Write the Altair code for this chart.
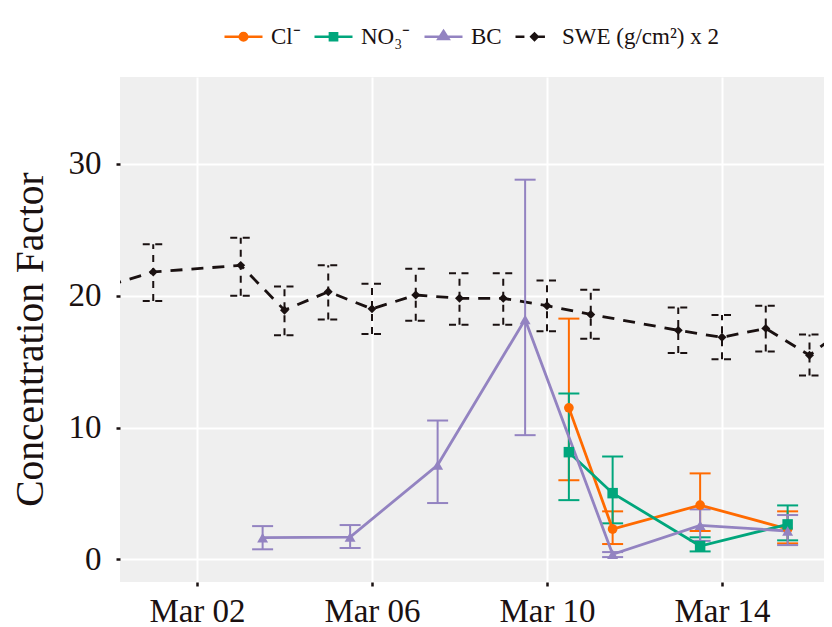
import altair as alt
import pandas as pd

# ---- data ----
series_names = ["Cl⁻", "NO₃⁻", "BC", "SWE (g/cm²) x 2"]
series_colors = ["#ff6a00", "#00a67c", "#9383c1", "#1a1111"]
point_shapes = ["circle", "square", "triangle-up", "diamond"]
point_sizes = [95, 110, 120, 80]


def ring(r):
    return f"M{r},0A{r},{r} 0 1,1 -{r},0A{r},{r} 0 1,1 {r},0Z"


def sq(h):
    return f"M-{h},-{h}H{h}V{h}H-{h}Z"


def tri(k):
    return f"M0,{-0.02 - 0.28 * k:.3f}L{0.27 * k:.3f},{-0.02 + 0.14 * k:.3f}H{-0.27 * k:.3f}Z"


def dia(h):
    return f"M-{h},0L0,-{h}L{h},0L0,{h}Z"


# legend keys: line plus marker (marker filled by nested strokes)
legend_paths = [
    "M-1,0H1" + ring(0.2) + ring(0.12) + ring(0.05),
    "M-1,0H1" + sq(0.19) + sq(0.12) + sq(0.05),
    "M-1,0H1" + tri(1.0) + tri(0.6) + tri(0.25),
    "M-1,0H-0.53M0.15,0H0.55" + dia(0.17) + dia(0.1) + dia(0.04),
]

swe_dates = ["2019-02-28T00:00:00Z", "2019-03-01T00:00:00Z", "2019-03-03T00:00:00Z",
             "2019-03-04T00:00:00Z", "2019-03-05T00:00:00Z", "2019-03-06T00:00:00Z",
             "2019-03-07T00:00:00Z", "2019-03-08T00:00:00Z", "2019-03-09T00:00:00Z",
             "2019-03-10T00:00:00Z", "2019-03-11T00:00:00Z", "2019-03-13T00:00:00Z",
             "2019-03-14T00:00:00Z", "2019-03-15T00:00:00Z", "2019-03-16T00:00:00Z",
             "2019-03-17T00:00:00Z"]
swe_value = [20.8, 21.8, 22.3, 18.9, 20.3, 19.0, 20.05, 19.8, 19.8, 19.24, 18.58, 17.37, 16.84, 17.52, 15.48, 18.0]
swe_low = [18.9, 19.6, 20.0, 17.0, 18.2, 17.1, 18.1, 17.8, 17.8, 17.3, 16.74, 15.66, 15.17, 15.76, 13.94, 16.2]
swe_high = [22.7, 23.9, 24.4, 20.7, 22.3, 20.9, 22.05, 21.7, 21.7, 21.16, 20.45, 19.11, 18.54, 19.24, 17.05, 19.8]

bc_dates = ["2019-03-03T12:00:00Z", "2019-03-05T12:00:00Z", "2019-03-07T12:00:00Z",
            "2019-03-09T12:00:00Z", "2019-03-11T12:00:00Z", "2019-03-13T12:00:00Z",
            "2019-03-15T12:00:00Z"]
bc_value = [1.64, 1.69, 7.15, 18.2, 0.38, 2.58, 2.15]
bc_low = [0.76, 0.86, 4.27, 9.42, 0.17, 1.4, 1.08]
bc_high = [2.52, 2.6, 10.53, 28.8, 0.55, 3.79, 3.36]

ion_dates = ["2019-03-10T12:00:00Z", "2019-03-11T12:00:00Z", "2019-03-13T12:00:00Z",
             "2019-03-15T12:00:00Z"]
cl_value = [11.49, 2.3, 4.11, 2.3]
cl_low = [6.0, 1.16, 2.15, 1.21]
cl_high = [18.26, 3.64, 6.52, 3.64]

no3_value = [8.13, 5.02, 1.01, 2.65]
no3_low = [4.49, 2.73, 0.6, 1.44]
no3_high = [12.58, 7.8, 1.67, 4.09]

x_ticks = [2, 6, 10, 14]
y_ticks = [0, 10, 20, 30]


def frame(name, dates, val, lo, hi):
    return pd.DataFrame({"series": name, "date": dates, "value": val, "lo": lo, "hi": hi})


df = pd.concat([
    frame(series_names[0], ion_dates, cl_value, cl_low, cl_high),
    frame(series_names[1], ion_dates, no3_value, no3_low, no3_high),
    frame(series_names[2], bc_dates, bc_value, bc_low, bc_high),
    frame(series_names[3], swe_dates, swe_value, swe_low, swe_high),
], ignore_index=True)

FONT = "Liberation Serif"
TXT = "#1a1111"

x_scale = alt.Scale(type="utc",
                    domain=[alt.DateTime(year=2019, month=2, date=28, hours=5, minutes=46, utc=True),
                            alt.DateTime(year=2019, month=3, date=16, hours=7, minutes=57, utc=True)])
y_scale = alt.Scale(domain=[-1.72, 36.59], nice=False, zero=False)

x_enc = alt.X("date:T", scale=x_scale, title=None,
              axis=alt.Axis(values=[alt.DateTime(year=2019, month=3, date=d, utc=True) for d in x_ticks],
                            labelExpr="utcFormat(datum.value, '%b %d')", labelPadding=9))
color_scale = alt.Scale(domain=series_names, range=series_colors)
color_enc = alt.Color("series:N", scale=color_scale)

base = alt.Chart(df)

y_main = alt.Y("value:Q", scale=y_scale, title="Concentration Factor",
               axis=alt.Axis(values=y_ticks, labelPadding=15, titleX=-78, titleY=262,
                             titleBaseline="alphabetic"))


def series_layers(idx, dash_bar=None, dash_cap=None, dash_line=None):
    kw_bar = {"strokeDash": dash_bar} if dash_bar else {}
    kw_cap = {"strokeDash": dash_cap} if dash_cap else {}
    kw_line = {"strokeDash": dash_line} if dash_line else {}
    b = base.transform_filter(alt.datum.series == series_names[idx])
    bar = b.mark_rule(strokeWidth=2, clip=True, **kw_bar).encode(
        x=x_enc, y=alt.Y("lo:Q", scale=y_scale), y2="hi:Q", color=color_enc)
    cap_hi = b.mark_rule(strokeWidth=2, clip=True, xOffset=-10.5, x2Offset=10.5, **kw_cap).encode(
        x=x_enc, x2="date:T", y=alt.Y("hi:Q", scale=y_scale), color=color_enc)
    cap_lo = b.mark_rule(strokeWidth=2, clip=True, xOffset=-10.5, x2Offset=10.5, **kw_cap).encode(
        x=x_enc, x2="date:T", y=alt.Y("lo:Q", scale=y_scale), color=color_enc)
    line = b.mark_line(strokeWidth=2.8, clip=True, **kw_line).encode(
        x=x_enc, y=y_main, color=color_enc)
    pts = b.mark_point(filled=True, opacity=1, clip=True, shape=point_shapes[idx],
                       size=point_sizes[idx]).encode(x=x_enc, y=y_main, color=color_enc)
    return [bar, cap_hi, cap_lo], [line], [pts]


swe = series_layers(3, [7, 6], [7, 5.5], [12, 9])
ions = [series_layers(i) for i in range(3)]

data_layers = swe[0] + swe[1] + swe[2]
for part in range(3):
    for s in ions:
        data_layers += s[part]

leg = dict(title=None, orient="none", legendX=103, legendY=-61, direction="horizontal",
           labelFont=FONT, labelFontSize=23, labelColor=TXT, labelOffset=7,
           symbolSize=1444, symbolStrokeWidth=2.5, columnPadding=8, padding=0,
           symbolOpacity=1)

# legend-carrying layer (first, so its legend settings win); its marks sit outside the clipped area
legend_layer = base.mark_point(filled=False, opacity=1, strokeWidth=2.5, clip=True, xOffset=3000).encode(
    x=x_enc, y=y_main,
    color=alt.Color("series:N", scale=color_scale, legend=alt.Legend(**leg)),
    shape=alt.Shape("series:N", scale=alt.Scale(domain=series_names, range=legend_paths),
                    legend=alt.Legend(**leg)),
)

chart = alt.layer(legend_layer, *data_layers).properties(
    width=704, height=505,
    padding={"left": 112, "top": 69, "right": 0, "bottom": 45},
    autosize=alt.AutoSizeParams(type="none"),
    view=alt.ViewBackground(fill="#efefef", stroke=None),
).configure_view(
    fill="#efefef", stroke=None
).configure_axis(
    labelFont=FONT, titleFont=FONT, labelFontSize=33, titleFontSize=39.5,
    labelColor=TXT, titleColor=TXT, titleFontWeight="normal",
    grid=True, gridColor="#ffffff", gridWidth=2,
    domain=False, tickColor=TXT, tickWidth=2.5, tickSize=4,
)

chart.save("out.html", embed_options={"renderer": "svg", "actions": False})
